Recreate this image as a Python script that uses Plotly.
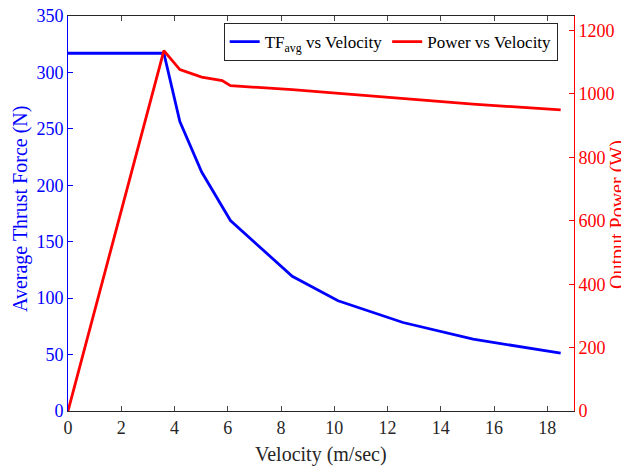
import plotly.graph_objects as go

# Data
tf_velocity = [0, 3.6, 4.2, 5.02, 6.1, 8.42, 10.14, 12.58, 15.21, 18.5]
tf_avg = [317, 317, 256.5, 211.7, 168.8, 119.3, 97.7, 78.4, 63.7, 51.2]

power_velocity = [0, 3.6, 4.2, 5.02, 5.79, 6.1, 8.42, 10.14, 12.58, 15.21, 18.5]
power = [0, 1137, 1077, 1053, 1042, 1026, 1014, 1002, 987, 968, 950]

x_ticks = [0, 2, 4, 6, 8, 10, 12, 14, 16, 18]
y1_ticks = [0, 50, 100, 150, 200, 250, 300, 350]
y2_ticks = [0, 200, 400, 600, 800, 1000, 1200]

FONT = "Liberation Serif, Times New Roman, serif"
BLUE = "#0000ff"
RED = "#ff0000"
DARK = "#262626"

# The page body has an 8px margin, so the figure is drawn 8px in from the window corner.
OFF = 8
W, H = 629 - OFF, 467 - OFF
X0, X1, Y0, Y1 = 68 - OFF, 574 - OFF, 16 - OFF, 411 - OFF   # plot area in figure px
L, R, T, B = X0, W - X1, Y0, H - Y1
pw, ph = X1 - X0, Y1 - Y0


def px(xw):
    return (xw - OFF - X0) / pw


def py(yw):
    return (Y1 - (yw - OFF)) / ph


fig = go.Figure()
fig.add_trace(go.Scatter(x=tf_velocity, y=tf_avg, mode="lines",
                         name="TF<sub>avg</sub> vs Velocity",
                         line=dict(color=BLUE, width=2.8)))
fig.add_trace(go.Scatter(x=power_velocity, y=power, mode="lines",
                         name="Power vs Velocity", yaxis="y2",
                         line=dict(color=RED, width=2.8)))

fig.update_layout(
    width=W, height=H,
    margin=dict(l=L, r=R, t=T, b=B, autoexpand=False),
    paper_bgcolor="white", plot_bgcolor="white",
    font=dict(family=FONT, size=18, color=DARK),
    showlegend=True,
    legend=dict(orientation="h", x=px(557.7), xanchor="right",
                y=py(23), yanchor="top",
                bgcolor="white", bordercolor=DARK, borderwidth=1,
                font=dict(family=FONT, size=17, color="#000000"),
                tracegroupgap=0),
    xaxis=dict(range=[0, 19], tickvals=x_ticks, ticks="inside", ticklen=5,
               showline=True, linecolor=DARK, linewidth=1, mirror="ticks",
               showgrid=False, zeroline=False, automargin=False,
               ticklabeloverflow="allow",
               tickfont=dict(size=18, color=DARK)),
    yaxis=dict(range=[0, 350], tickvals=y1_ticks, ticks="inside", ticklen=5,
               showline=True, linecolor=BLUE, tickcolor=BLUE, linewidth=1,
               showgrid=False, zeroline=False, automargin=False,
               ticklabeloverflow="allow",
               tickfont=dict(size=18, color=BLUE)),
    yaxis2=dict(range=[0, 1246], tickvals=y2_ticks, ticks="inside", ticklen=5,
                overlaying="y", side="right",
                showline=True, linecolor=RED, tickcolor=RED, linewidth=1,
                showgrid=False, zeroline=False, automargin=False,
                ticklabeloverflow="allow",
                tickfont=dict(size=18, color=RED)),
    annotations=[
        dict(text="Velocity (m/sec)", xref="paper", yref="paper",
             x=px(321), y=py(455), xanchor="center", yanchor="middle",
             showarrow=False, font=dict(family=FONT, size=20, color=DARK)),
        dict(text="Average Thrust Force (N)", xref="paper", yref="paper",
             x=px(20), y=py(209), xanchor="center", yanchor="middle",
             textangle=-90, showarrow=False, font=dict(family=FONT, size=20, color=BLUE)),
        dict(text="Output Power (W)", xref="paper", yref="paper",
             x=px(617), y=py(215), xanchor="center", yanchor="middle",
             textangle=-90, showarrow=False, font=dict(family=FONT, size=20, color=RED)),
    ],
)

fig.write_html("out.html")
